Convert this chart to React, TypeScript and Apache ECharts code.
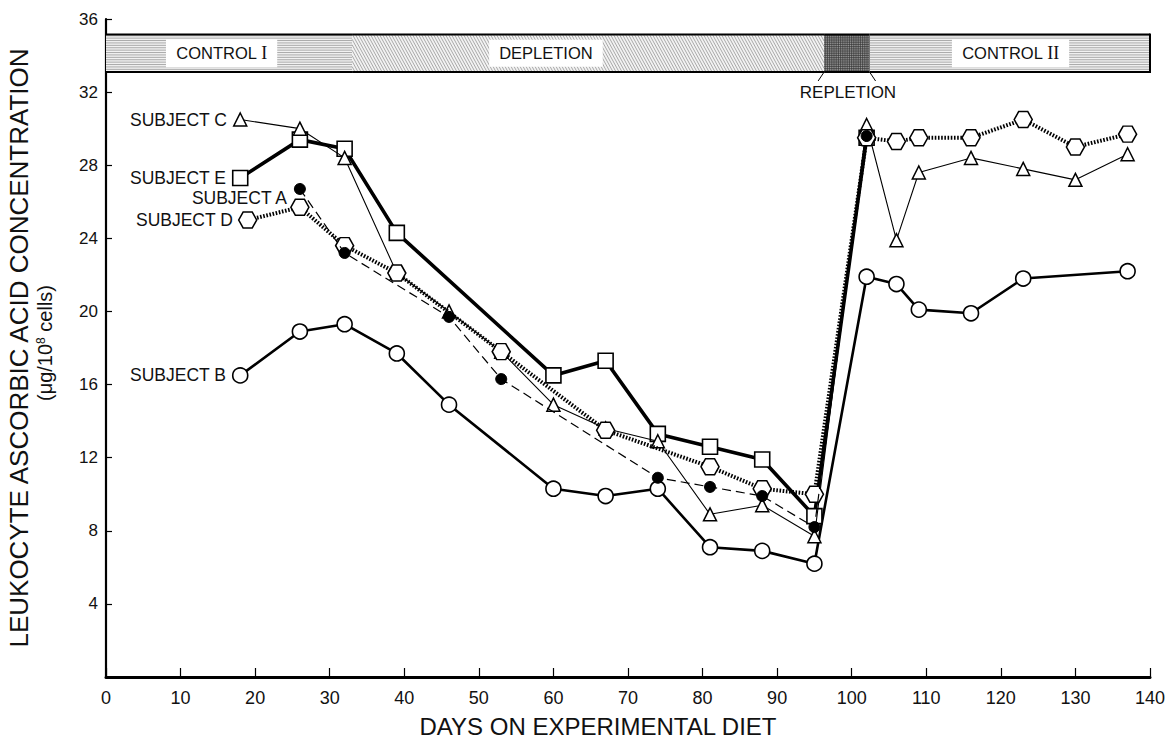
import React, { useEffect, useRef } from "react";
import * as echarts from "echarts";

// ---------- data ----------
const subjectADays = [26, 32, 46, 53, 74, 81, 88, 95, 102];
const subjectAVals = [26.7, 23.2, 19.7, 16.3, 10.9, 10.4, 9.9, 8.2, 29.6];

const subjectBDays = [18, 26, 32, 39, 46, 60, 67, 74, 81, 88, 95, 102, 106, 109, 116, 123, 137];
const subjectBVals = [16.5, 18.9, 19.3, 17.7, 14.9, 10.3, 9.9, 10.3, 7.1, 6.9, 6.2, 21.9, 21.5, 20.1, 19.9, 21.8, 22.2];

const subjectCDays = [18, 26, 32, 39, 46, 53, 60, 67, 74, 81, 88, 95, 102, 106, 109, 116, 123, 130, 137];
const subjectCVals = [30.5, 30.0, 28.4, 22.1, 20.0, 17.8, 14.9, 13.6, 12.9, 8.9, 9.4, 7.7, 30.2, 23.9, 27.6, 28.4, 27.8, 27.2, 28.6];

const subjectDDays = [19, 26, 32, 39, 53, 67, 81, 88, 95, 102, 106, 109, 116, 123, 130, 137];
const subjectDVals = [25.0, 25.7, 23.6, 22.1, 17.8, 13.5, 11.5, 10.3, 10.0, 29.5, 29.3, 29.5, 29.5, 30.5, 29.0, 29.7];

const subjectEDays = [18, 26, 32, 39, 60, 67, 74, 81, 88, 95, 102];
const subjectEVals = [27.3, 29.4, 28.9, 24.3, 16.5, 17.3, 13.3, 12.6, 11.9, 8.8, 29.5];

const phaseNames = ["CONTROL I", "DEPLETION", "REPLETION", "CONTROL II"];
const phaseStart = [0, 33, 96.3, 102.4];
const phaseEnd = [33, 96.3, 102.4, 140];
const phaseLabelAt = [15.5, 59, 99.5, 121.3];

const xTickValues = [0, 10, 20, 30, 40, 50, 60, 70, 80, 90, 100, 110, 120, 130, 140];
const yTickValues = [4, 8, 12, 16, 20, 24, 28, 32, 36];

// ---------- layout / style constants ----------
const BAR_TOP = 35.15;
const BAR_BOTTOM = 33.1;
const FONT = "'Liberation Sans', Arial, Helvetica, sans-serif";
const NARROW = "'Liberation Sans Narrow', 'Liberation Sans', Arial, sans-serif";
const HEX = "path://M-1,0 L-0.5,-0.866 L0.5,-0.866 L1,0 L0.5,0.866 L-0.5,0.866 Z";

function pairs(days: number[], vals: number[], name: string, labelOpts: any) {
  return days.map((d, i) => {
    if (i === 0) {
      return {
        value: [d, vals[i]],
        label: {
          show: true,
          position: "left",
          formatter: name,
          fontFamily: FONT,
          fontSize: 17.5,
          color: "#111",
          ...labelOpts,
        },
      };
    }
    return { value: [d, vals[i]] };
  });
}

function hatchDiagonal(x0: number, y0: number, x1: number, y1: number, step: number, k: number, stroke: string, w: number) {
  const out: any[] = [];
  const h = y1 - y0;
  for (let c = x0 - h * k; c < x1; c += step) {
    let ax = c, ay = y0, bx = c + h * k, by = y1;
    if (ax < x0) { ay = y0 + (x0 - ax) / k; ax = x0; }
    if (bx > x1) { by = y0 + (x1 - c) / k; bx = x1; }
    if (ay >= by) continue;
    out.push({ type: "line", shape: { x1: ax, y1: ay, x2: bx, y2: by }, style: { stroke, lineWidth: w } });
  }
  return out;
}

function hatchH(x0: number, y0: number, x1: number, y1: number, step: number, stroke: string, w: number) {
  const out: any[] = [];
  for (let y = y0 + step / 2; y < y1; y += step) {
    out.push({ type: "line", shape: { x1: x0, y1: y, x2: x1, y2: y }, style: { stroke, lineWidth: w } });
  }
  return out;
}

function hatchV(x0: number, y0: number, x1: number, y1: number, step: number, stroke: string, w: number) {
  const out: any[] = [];
  for (let x = x0 + step / 2; x < x1; x += step) {
    out.push({ type: "line", shape: { x1: x, y1: y0, x2: x, y2: y1 }, style: { stroke, lineWidth: w } });
  }
  return out;
}

function renderPhase(params: any, api: any) {
  const idx = api.value(2);
  const tl = api.coord([api.value(0), BAR_TOP]);
  const br = api.coord([api.value(1), BAR_BOTTOM]);
  const x0 = tl[0], y0 = tl[1], x1 = br[0], y1 = br[1];
  const children: any[] = [];
  children.push({ type: "rect", shape: { x: x0, y: y0, width: x1 - x0, height: y1 - y0 }, style: { fill: "#f2f2f2" } });
  if (idx === 0 || idx === 3) {
    children.push(...hatchH(x0, y0, x1, y1, 2.4, "#8a8a8a", 0.7));
  } else if (idx === 1) {
    children.push(...hatchDiagonal(x0, y0, x1, y1, 3, 0.55, "#8a8a8a", 0.7));
  } else {
    children.push({ type: "rect", shape: { x: x0, y: y0, width: x1 - x0, height: y1 - y0 }, style: { fill: "#9a9a9a" } });
    children.push(...hatchH(x0, y0, x1, y1, 2.2, "#333", 0.7));
    children.push(...hatchV(x0, y0, x1, y1, 2.2, "#333", 0.7));
    children.push({ type: "line", shape: { x1: x1, y1: y0, x2: x1, y2: y1 }, style: { stroke: "#222", lineWidth: 1.2 } });
  }
  // borders
  children.push({ type: "line", shape: { x1: x0, y1: y0, x2: x1, y2: y0 }, style: { stroke: "#000", lineWidth: 2 } });
  children.push({ type: "line", shape: { x1: x0, y1: y1, x2: x1, y2: y1 }, style: { stroke: "#000", lineWidth: 2 } });
  if (idx === phaseNames.length - 1) {
    children.push({ type: "line", shape: { x1: x1, y1: y0 - 1, x2: x1, y2: y1 + 1 }, style: { stroke: "#000", lineWidth: 2 } });
  }
  const lp = api.coord([api.value(3), (BAR_TOP + BAR_BOTTOM) / 2]);
  const name = phaseNames[idx];
  if (idx === 2) {
    children.push({ type: "line", shape: { x1: x0, y1: y1, x2: x0 - 6, y2: y1 + 9 }, style: { stroke: "#000", lineWidth: 1 } });
    children.push({ type: "line", shape: { x1: x1, y1: y1, x2: x1 + 6, y2: y1 + 9 }, style: { stroke: "#000", lineWidth: 1 } });
    children.push({
      type: "text",
      style: {
        text: name, x: lp[0], y: y1 + 20, align: "center", verticalAlign: "middle",
        textAlign: "center", textVerticalAlign: "middle",
        font: `17px ${FONT}`, fill: "#111",
      },
    });
  } else {
    const romanIdx = name.indexOf(" I");
    const rich = romanIdx >= 0
      ? `{t|${name.slice(0, romanIdx + 1)}}{r|${name.slice(romanIdx + 1)}}`
      : `{t|${name}}`;
    children.push({
      type: "text",
      style: {
        text: rich, x: lp[0], y: lp[1], align: "center", verticalAlign: "middle",
        textAlign: "center", textVerticalAlign: "middle",
        backgroundColor: "#fff", padding: [5, 10, 5, 10],
        rich: {
          t: { fontFamily: FONT, fontSize: 16.5, fill: "#111", color: "#111" },
          r: { fontFamily: "'Liberation Serif', 'DejaVu Serif', serif", fontSize: 18, fill: "#111", color: "#111" },
        },
        font: `16.5px ${FONT}`, fill: "#111",
      },
    });
  }
  return { type: "group", children };
}

export default function App() {
  const ref = useRef<HTMLDivElement>(null);
  useEffect(() => {
    document.body.style.margin = "0";
    if (!ref.current) return;
    const chart = echarts.init(ref.current, null, { renderer: "svg" });
    const option: any = {
      animation: false,
      backgroundColor: "#fff",
      grid: { left: 106, right: 15, top: 19, bottom: 65, containLabel: false },
      xAxis: {
        type: "value",
        min: 0,
        max: 140,
        interval: 10,
        axisLine: { show: true, onZero: false, lineStyle: { color: "#000", width: 3 } },
        axisTick: { show: true, inside: true, length: 9, lineStyle: { color: "#000", width: 1.2 } },
        axisLabel: {
          color: "#111", fontFamily: NARROW, fontSize: 18, margin: 12,
          formatter: (v: number) => (xTickValues.indexOf(v) >= 0 ? String(v) : ""),
        },
        splitLine: { show: false },
      },
      yAxis: {
        type: "value",
        min: 0,
        max: 36,
        interval: 4,
        axisLine: { show: true, onZero: false, lineStyle: { color: "#000", width: 2.2 } },
        axisTick: { show: true, inside: true, length: 6, lineStyle: { color: "#000", width: 1.2 } },
        axisLabel: {
          color: "#111", fontFamily: FONT, fontSize: 17, margin: 8,
          formatter: (v: number) => (yTickValues.indexOf(v) >= 0 ? String(v) : ""),
        },
        splitLine: { show: false },
      },
      graphic: [
        {
          type: "text",
          x: 19,
          y: 348,
          rotation: Math.PI / 2,
          style: {
            text: "LEUKOCYTE ASCORBIC ACID CONCENTRATION",
            font: `26px ${FONT}`,
            fill: "#111",
            align: "center",
            verticalAlign: "middle",
          },
        },
        {
          type: "text",
          x: 45,
          y: 343,
          rotation: Math.PI / 2,
          style: {
            text: "{a|(μg/10}{s|8}{a| cells)}",
            align: "center",
            verticalAlign: "middle",
            fill: "#111",
            font: `20px ${FONT}`,
            rich: {
              a: { fontFamily: FONT, fontSize: 20, fill: "#111" },
              s: { fontFamily: FONT, fontSize: 12, fill: "#111", verticalAlign: "top", padding: [0, 0, 8, 0] },
            },
          },
        },
        {
          type: "text",
          x: 598,
          y: 726,
          style: {
            text: "DAYS ON EXPERIMENTAL DIET",
            font: `24px ${FONT}`,
            fill: "#111",
            align: "center",
            verticalAlign: "middle",
          },
        },
      ],
      series: [
        {
          type: "custom",
          name: "phases",
          renderItem: renderPhase,
          clip: false,
          z: 1,
          data: phaseNames.map((_, i) => [phaseStart[i], phaseEnd[i], i, phaseLabelAt[i]]),
          encode: { x: [0, 1], y: 2 },
          silent: true,
        },
        {
          type: "line",
          name: "SUBJECT B",
          z: 3,
          data: pairs(subjectBDays, subjectBVals, "SUBJECT B", { distance: 6 }),
          symbol: "circle",
          symbolSize: 15,
          lineStyle: { color: "#000", width: 2.6 },
          itemStyle: { color: "#fff", borderColor: "#000", borderWidth: 1.6 },
        },
        {
          type: "line",
          name: "SUBJECT E",
          z: 4,
          data: pairs(subjectEDays, subjectEVals, "SUBJECT E", { distance: 6 }),
          symbol: "rect",
          symbolSize: 15,
          lineStyle: { color: "#000", width: 3.6 },
          itemStyle: { color: "#fff", borderColor: "#000", borderWidth: 1.6 },
        },
        {
          type: "line",
          name: "SUBJECT C",
          z: 5,
          data: pairs(subjectCDays, subjectCVals, "SUBJECT C", { distance: 6 }),
          symbol: "triangle",
          symbolSize: 13,
          lineStyle: { color: "#000", width: 1.1 },
          itemStyle: { color: "#fff", borderColor: "#000", borderWidth: 1.5 },
        },
        {
          type: "line",
          name: "SUBJECT D",
          z: 6,
          data: pairs(subjectDDays, subjectDVals, "SUBJECT D", { distance: 5 }),
          symbol: HEX,
          symbolSize: [18, 16],
          lineStyle: { color: "#000", width: 4, type: [1.6, 1.6] },
          itemStyle: { color: "#fff", borderColor: "#000", borderWidth: 1.5 },
        },
        {
          type: "line",
          name: "SUBJECT A",
          z: 7,
          data: pairs(subjectADays, subjectAVals, "SUBJECT A", { distance: 7, offset: [0, 9] }),
          symbol: "circle",
          symbolSize: 11,
          lineStyle: { color: "#000", width: 1.2, type: [9, 5] },
          itemStyle: { color: "#000", borderColor: "#000", borderWidth: 1 },
        },
      ],
    };
    chart.setOption(option);
    return () => chart.dispose();
  }, []);
  return <div ref={ref} style={{ width: 1168, height: 742 }} />;
}
